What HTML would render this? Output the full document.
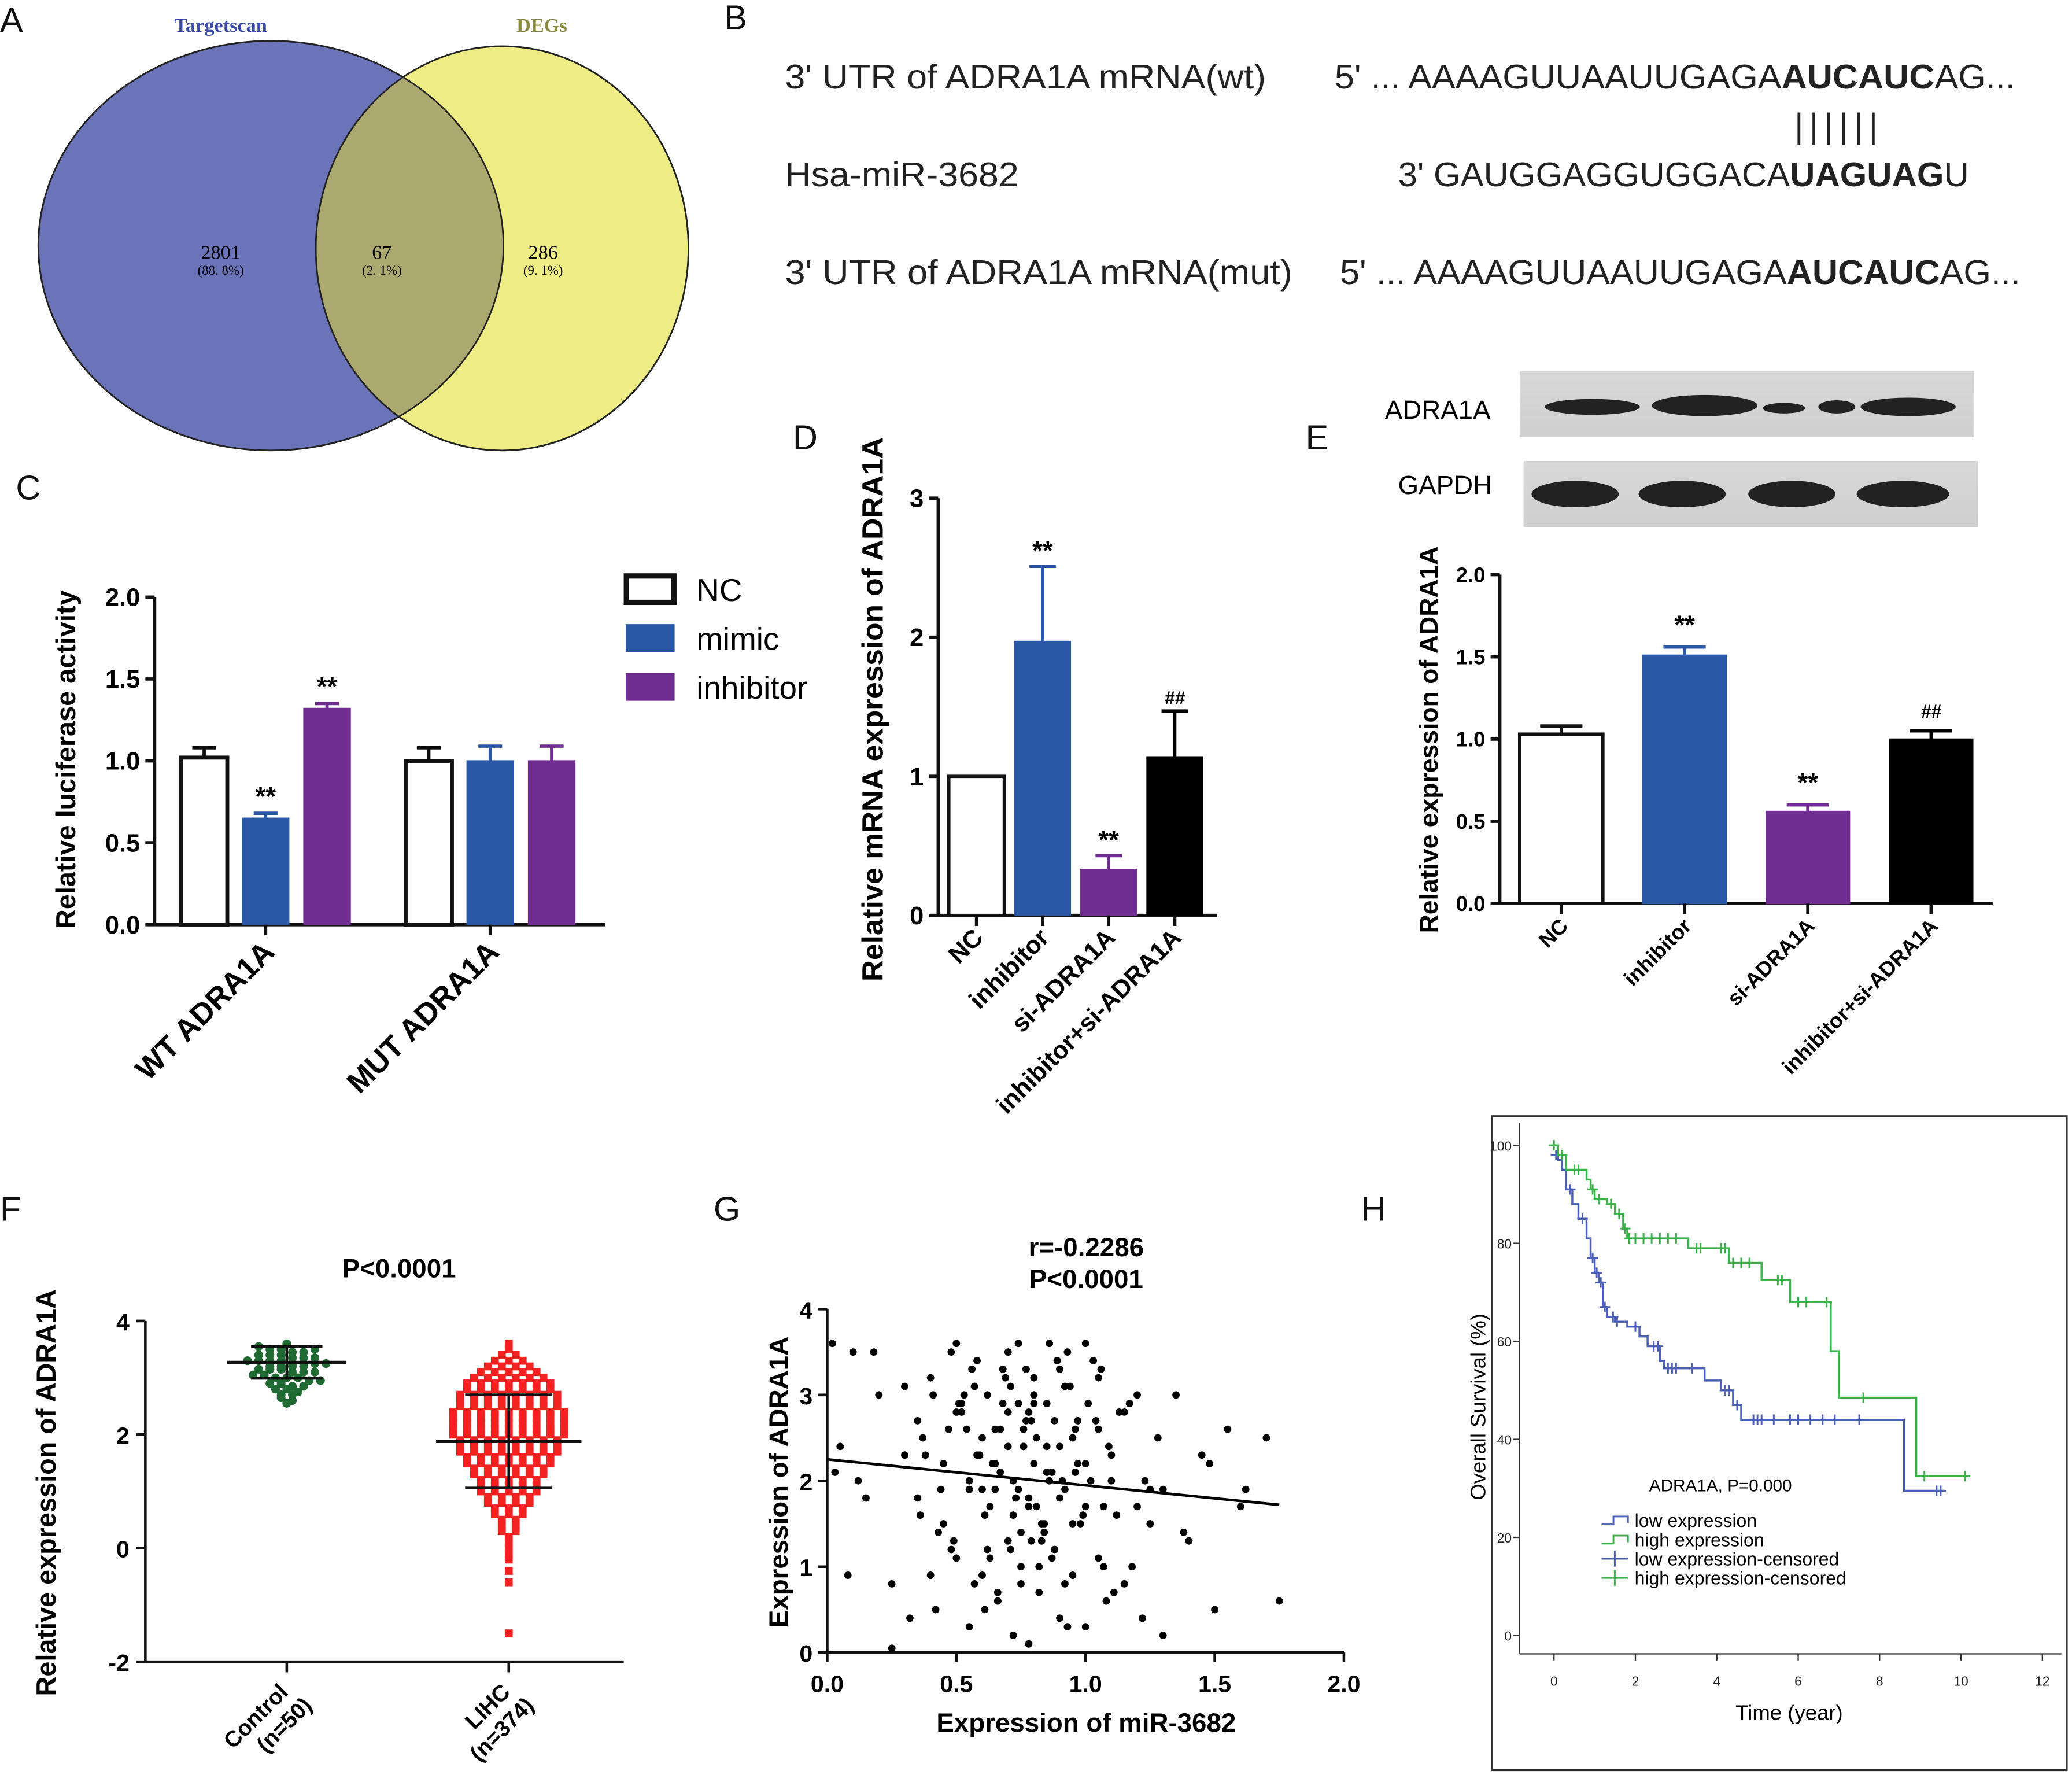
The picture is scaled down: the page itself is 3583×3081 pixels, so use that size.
<!DOCTYPE html>
<html><head><meta charset="utf-8"><style>
html,body{margin:0;padding:0;background:#fff}
svg{display:block}
text{font-family:"Liberation Sans",Arial,sans-serif}
</style></head><body>
<svg id="fig" width="3583" height="3081" viewBox="0 0 1568 1349" preserveAspectRatio="none" xmlns="http://www.w3.org/2000/svg">
<defs>
<clipPath id="clipBlue"><ellipse cx="205" cy="186" rx="176" ry="155"/></clipPath>
<linearGradient id="blot" x1="0" x2="0" y1="0" y2="1"><stop offset="0" stop-color="#d8d8d8"/><stop offset="1" stop-color="#cfcfcf"/></linearGradient>
</defs>
<g font-size="26" fill="#111">
<text x="0" y="24">A</text>
<text x="548" y="22">B</text>
<text x="12" y="378">C</text>
<text x="600" y="340">D</text>
<text x="988" y="340">E</text>
<text x="0" y="924">F</text>
<text x="540" y="924">G</text>
<text x="1030" y="924">H</text>
</g>

<g>
<ellipse cx="205" cy="186" rx="176" ry="155" fill="#6b73b9" stroke="#222" stroke-width="1.2"/>
<ellipse cx="380" cy="188" rx="141" ry="153" fill="#eeec85" stroke="#222" stroke-width="1.2"/>
<ellipse cx="380" cy="188" rx="141" ry="153" fill="#aca970" clip-path="url(#clipBlue)"/>
<ellipse cx="205" cy="186" rx="176" ry="155" fill="none" stroke="#222" stroke-width="1.2"/>
<ellipse cx="380" cy="188" rx="141" ry="153" fill="none" stroke="#222" stroke-width="1.2"/>
<g text-anchor="middle">
<text x="167" y="24" font-size="15" font-weight="bold" fill="#3a4aa8" style="font-family:'Liberation Serif',serif">Targetscan</text>
<text x="410" y="24" font-size="15" font-weight="bold" fill="#8a8a40" style="font-family:'Liberation Serif',serif">DEGs</text>
<text x="167" y="196" font-size="15" style="font-family:'Liberation Serif',serif">2801</text>
<text x="167" y="208" font-size="10" style="font-family:'Liberation Serif',serif">(88. 8%)</text>
<text x="289" y="196" font-size="15" style="font-family:'Liberation Serif',serif">67</text>
<text x="289" y="208" font-size="10" style="font-family:'Liberation Serif',serif">(2. 1%)</text>
<text x="411" y="196" font-size="15" style="font-family:'Liberation Serif',serif">286</text>
<text x="411" y="208" font-size="10" style="font-family:'Liberation Serif',serif">(9. 1%)</text>
</g>
</g>

<g font-size="26" fill="#222">
<text x="594" y="67" textLength="364" lengthAdjust="spacingAndGlyphs">3' UTR of ADRA1A mRNA(wt)</text>
<text x="1010" y="67" textLength="515" lengthAdjust="spacingAndGlyphs">5' ... AAAAGUUAAUUGAGA<tspan font-weight="bold">AUCAUC</tspan>AG...</text>
<text x="1358" y="104" font-size="26" letter-spacing="4.5">||||||</text>
<text x="594" y="141" textLength="177" lengthAdjust="spacingAndGlyphs">Hsa-miR-3682</text>
<text x="1058" y="141" textLength="432" lengthAdjust="spacingAndGlyphs">3' GAUGGAGGUGGACA<tspan font-weight="bold">UAGUAG</tspan>U</text>
<text x="594" y="215" textLength="384" lengthAdjust="spacingAndGlyphs">3' UTR of ADRA1A mRNA(mut)</text>
<text x="1014" y="215" textLength="515" lengthAdjust="spacingAndGlyphs">5' ... AAAAGUUAAUUGAGA<tspan font-weight="bold">AUCAUC</tspan>AG...</text>
</g>

<g id="chartC"></g>
<g id="chartD"></g>
<g id="chartE"></g>
<g id="chartF"></g>
<g id="chartG"></g>
<g id="chartH"></g>

<g>
<text x="1048" y="317" font-size="20">ADRA1A</text>
<text x="1058" y="374" font-size="20">GAPDH</text>
<rect x="1150" y="281" width="344" height="50" fill="url(#blot)"/>
<rect x="1153" y="349" width="344" height="50" fill="url(#blot)"/>
<g fill="#222">
<ellipse cx="1205" cy="308" rx="36" ry="6"/><ellipse cx="1290" cy="307" rx="40" ry="8"/><ellipse cx="1350" cy="309" rx="16" ry="4"/><ellipse cx="1390" cy="308" rx="14" ry="5"/><ellipse cx="1444" cy="308" rx="36" ry="7"/>
<ellipse cx="1192" cy="374" rx="33" ry="10"/><ellipse cx="1273" cy="374" rx="33" ry="10"/><ellipse cx="1356" cy="374" rx="33" ry="10"/><ellipse cx="1440" cy="374" rx="35" ry="10"/>
</g>
</g>
</svg>
<script>
const NS="http://www.w3.org/2000/svg";
function mk(p,tag,a,txt){const e=document.createElementNS(NS,tag);for(const k in a)e.setAttribute(k,a[k]);if(txt!==undefined)e.textContent=txt;p.appendChild(e);return e;}

const cGroups=["WT ADRA1A","MUT ADRA1A"];
const cSeries=["NC","mimic","inhibitor"];
const cValues=[[1.02,0.65,1.32],[1.0,1.0,1.0]];
const cErrors=[[0.06,0.03,0.03],[0.08,0.09,0.09]];
const cTicks=[0,0.5,1.0,1.5,2.0];
const cStars=[["","**","**"],["","",""]];
const dCats=["NC","inhibitor","si-ADRA1A","inhibitor+si-ADRA1A"];
const dValues=[1.0,1.97,0.33,1.14];
const dErrors=[0,0.54,0.1,0.33];
const dTicks=[0,1,2,3];
const dStars=["","**","**","##"];
const eCats=["NC","inhibitor","si-ADRA1A","inhibitor+si-ADRA1A"];
const eValues=[1.03,1.51,0.56,1.0];
const eErrors=[0.05,0.05,0.04,0.05];
const eTicks=[0,0.5,1.0,1.5,2.0];
const eStars=["","**","**","##"];
const fControl=[3.6,3.55,3.5,3.5,3.45,3.45,3.4,3.4,3.4,3.35,3.35,3.35,3.3,3.3,3.3,3.3,3.25,3.25,3.25,3.25,3.2,3.2,3.2,3.2,3.15,3.15,3.15,3.1,3.1,3.1,3.05,3.05,3.0,3.0,3.0,2.95,2.95,2.9,2.9,2.85,2.85,2.8,2.8,2.75,2.7,2.7,2.65,2.6,2.55,3.5];
const fLihc=[3.6,3.5,3.4,3.4,3.3,3.3,3.3,3.2,3.2,3.2,3.2,3.1,3.1,3.1,3.1,3.1,3.0,3.0,3.0,3.0,3.0,3.0,2.9,2.9,2.9,2.9,2.9,2.9,2.9,2.8,2.8,2.8,2.8,2.8,2.8,2.8,2.7,2.7,2.7,2.7,2.7,2.7,2.7,2.7,2.6,2.6,2.6,2.6,2.6,2.6,2.6,2.6,2.5,2.5,2.5,2.5,2.5,2.5,2.5,2.5,2.4,2.4,2.4,2.4,2.4,2.4,2.4,2.4,2.4,2.3,2.3,2.3,2.3,2.3,2.3,2.3,2.3,2.3,2.2,2.2,2.2,2.2,2.2,2.2,2.2,2.2,2.2,2.1,2.1,2.1,2.1,2.1,2.1,2.1,2.1,2.1,2.0,2.0,2.0,2.0,2.0,2.0,2.0,2.0,2.0,1.9,1.9,1.9,1.9,1.9,1.9,1.9,1.9,1.8,1.8,1.8,1.8,1.8,1.8,1.8,1.8,1.7,1.7,1.7,1.7,1.7,1.7,1.7,1.7,1.6,1.6,1.6,1.6,1.6,1.6,1.6,1.5,1.5,1.5,1.5,1.5,1.5,1.5,1.4,1.4,1.4,1.4,1.4,1.4,1.3,1.3,1.3,1.3,1.3,1.3,1.2,1.2,1.2,1.2,1.2,1.1,1.1,1.1,1.1,1.1,1.0,1.0,1.0,1.0,1.0,0.9,0.9,0.9,0.9,0.8,0.8,0.8,0.8,0.7,0.7,0.7,0.6,0.6,0.6,0.5,0.5,0.4,0.4,0.3,0.3,0.2,0.1,0.0,-0.1,-0.2,-0.4,-0.6,-1.5];
const fStats={control:{mean:3.27,sd:0.28},lihc:{mean:1.88,sd:0.82}};
const fTicks=[-2,0,2,4];
const gX=[0.02,0.03,0.05,0.1,0.15,0.18,0.25,0.3,0.32,0.35,0.36,0.4,0.42,0.45,0.48,0.5,0.5,0.52,0.55,0.55,0.58,0.6,0.6,0.62,0.63,0.65,0.66,0.68,0.7,0.7,0.72,0.72,0.74,0.75,0.76,0.78,0.78,0.8,0.8,0.82,0.83,0.85,0.86,0.88,0.9,0.9,0.92,0.94,0.95,0.96,0.98,1.0,1.0,1.02,1.04,1.05,1.06,1.08,1.1,1.12,1.15,1.18,1.2,1.22,1.25,1.28,1.3,1.35,1.4,1.45,1.5,1.55,1.62,1.7,0.45,0.5,0.56,0.6,0.64,0.68,0.72,0.76,0.8,0.84,0.88,0.92,0.96,1.0,1.05,1.1,0.3,0.35,0.4,0.55,0.65,0.7,0.75,0.85,0.9,0.95,1.15,1.25,0.58,0.62,0.66,0.7,0.74,0.78,0.82,0.86,0.9,1.0,1.2,0.2,0.25,0.38,0.44,0.48,0.52,0.57,0.61,0.67,0.71,0.77,0.79,0.81,0.87,0.93,0.97,1.03,1.07,1.13,1.3,1.38,1.48,0.08,0.12,1.6,1.75,0.74,0.76,0.8,0.84,0.78,0.92,1.05,0.66,0.54,0.47,0.53,0.59,0.63,0.69,0.73,0.79,0.83,0.89,0.91,0.99,1.01,1.09,1.11,0.43,0.51,0.57,0.61,0.67,0.71,0.77,0.81,0.87,0.93,0.97,1.07,0.37,0.41,0.49,0.65,0.75,0.85,0.95,1.17,1.23];
const gY=[3.6,2.1,2.4,3.5,1.8,3.5,0.05,3.1,0.4,2.7,1.6,3.2,0.5,2.2,3.5,1.1,3.6,2.8,0.3,1.9,3.4,2.5,0.9,3.0,1.7,2.2,0.6,3.3,2.8,1.3,0.2,2.0,3.6,1.0,2.6,0.1,1.8,3.0,2.2,0.7,1.5,2.9,3.6,1.2,0.4,2.4,1.9,3.1,0.9,2.6,1.5,3.6,0.3,2.0,2.7,1.1,3.3,0.6,2.3,1.6,2.8,1.0,3.0,0.4,1.9,2.5,0.2,3.0,1.3,2.3,0.5,2.6,1.9,2.5,1.5,2.8,3.3,1.9,2.2,2.9,1.6,2.4,3.2,1.4,2.7,0.8,2.1,1.7,3.2,2.0,2.3,1.8,0.9,2.0,2.6,3.5,1.4,2.1,1.8,2.5,0.8,1.5,2.3,1.2,0.6,2.4,2.9,1.7,1.0,2.0,3.3,2.2,1.7,3.0,0.8,2.3,1.9,1.2,2.9,0.8,1.6,2.1,3.1,2.7,1.3,2.5,1.1,0.3,2.2,3.4,1.7,2.8,1.9,1.4,2.2,0.9,2.0,1.7,0.6,1.9,2.4,2.9,1.5,2.8,3.1,2.6,0.7,2.6,2.6,3.0,2.3,1.1,3.2,1.8,2.7,1.3,3.4,2.0,1.6,2.9,2.4,0.7,1.4,2.9,3.1,0.5,2.6,1.2,3.3,1.7,2.1,3.5,2.7,1.0,2.5,3.0,1.3,1.9,0.8,2.4,1.5,2.9,2.0];
const gFit=[2.25,1.72];
const gXTicks=[0,0.5,1.0,1.5,2.0];
const gYTicks=[0,1,2,3,4];
const hLowT=[0,0.1,0.2,0.3,0.45,0.6,0.8,0.9,1.0,1.1,1.2,1.3,1.5,1.8,2.1,2.3,2.6,2.7,3.7,4.1,4.4,4.6,8.6,9.6];
const hLowS=[98,97,95,91,88,85,81,77,74,72,67,65,64,63,61,59,56,54.5,52,50,47,44,29.5,29.5];
const hHighT=[0,0.1,0.3,0.8,0.9,1.0,1.3,1.5,1.7,1.8,3.3,4.3,5.1,5.8,6.8,7.0,8.9,10.1];
const hHighS=[100,98,95,93,91,89,88,86,83,81,79,76,72.5,68,58,48.5,32.5,32.5];
const hLowCens=[0.05,0.4,0.7,0.95,1.05,1.15,1.25,1.45,1.55,2.0,2.45,2.55,2.8,2.9,3.0,3.4,4.2,4.3,4.5,4.9,5.0,5.1,5.4,5.8,6.0,6.3,6.6,6.9,7.5,9.4,9.5];
const hHighCens=[0.0,0.2,0.5,0.6,0.95,1.1,1.4,1.6,1.75,1.85,2.0,2.2,2.4,2.6,2.8,3.0,3.5,3.6,4.1,4.2,4.4,4.6,4.8,5.5,5.6,6.0,6.2,6.7,7.6,9.1,10.1];
const hXTicks=[0,2,4,6,8,10,12];
const hYTicks=[0,20,40,60,80,100];

function barChart(g,o){
  const ys=v=>o.y0-v*o.k;
  mk(g,"line",{x1:o.x0,y1:o.y0,x2:o.x0,y2:ys(o.ticks[o.ticks.length-1]),stroke:"#111","stroke-width":2.5});
  mk(g,"line",{x1:o.x0,y1:o.y0,x2:o.xEnd,y2:o.y0,stroke:"#111","stroke-width":2.5});
  o.ticks.forEach(t=>{const y=ys(t);
    const tk=mk(g,"line",{x1:o.x0-7,y1:y,x2:o.x0,y2:y,stroke:"#111","stroke-width":2.5});
    
    
    mk(g,"text",{x:o.x0-11,y:y+o.fs*0.35,"font-size":o.fs,"font-weight":"bold","text-anchor":"end"},o.fmt(t));});
  const yt=mk(g,"text",{transform:`translate(${o.ytx},${o.yty}) rotate(-90)`,"font-size":o.yfs,"font-weight":"bold","text-anchor":"middle"},o.ytitle);
  
  
}

(function(){
  const g=document.getElementById("chartC");
  const x0=117,y0=700,k=124;
  barChart(g,{x0,y0,k,xEnd:458,ticks:cTicks,fs:19,fmt:t=>t.toFixed(1),ytx:57,yty:575,yfs:20.5,ytitle:"Relative luciferase activity"});
  const fills=["#fff","#2a57a5","#6f2c91"];
  const gStart=[137,307],bw=35,step=46.5;
  cGroups.forEach((gn,gi)=>{
    cValues[gi].forEach((v,si)=>{
      const x=gStart[gi]+si*step,y=y0-v*k,ye=y0-(v+cErrors[gi][si])*k;
      mk(g,"line",{x1:x+bw/2,y1:y,x2:x+bw/2,y2:ye,stroke:si==0?"#111":fills[si],"stroke-width":2.5});
      mk(g,"line",{x1:x+bw/2-9,y1:ye,x2:x+bw/2+9,y2:ye,stroke:si==0?"#111":fills[si],"stroke-width":2.5});
      const b=mk(g,"rect",{x:x,y:y,width:bw,height:v*k,fill:fills[si],stroke:si==0?"#111":fills[si],"stroke-width":si==0?3:1});
      
      
      if(cStars[gi][si]) mk(g,"text",{x:x+bw/2,y:ye-6,"font-size":20,"font-weight":"bold","text-anchor":"middle"},cStars[gi][si]);
    });
    const cx=gStart[gi]+step+bw/2;
    mk(g,"line",{x1:cx,y1:y0,x2:cx,y2:y0+8,stroke:"#111","stroke-width":2.5});
    const lab=mk(g,"text",{transform:`translate(${cx+8},${y0+22}) rotate(-45)`,"font-size":23,"font-weight":"bold","text-anchor":"end"},gn);
    
    
  });
  cSeries.forEach((s,i)=>{
    const y=436+i*37;
    const r=mk(g,"rect",{x:474,y:y,width:36,height:20,fill:fills[i],stroke:i==0?"#111":fills[i],"stroke-width":i==0?4:1});
    
    
    const t=mk(g,"text",{x:527,y:y+19,"font-size":24},s);
    
    
  });
})();

function catBars(g,cats,vals,errs,stars,o){
  const fills=["#fff","#2a57a5","#6f2c91","#000"];
  cats.forEach((c,i)=>{
    const x=o.start+i*o.step,v=vals[i],y=o.y0-v*o.k,ye=o.y0-(v+errs[i])*o.k,col=i==0?"#111":fills[i];
    if(errs[i]>0){mk(g,"line",{x1:x+o.bw/2,y1:y,x2:x+o.bw/2,y2:ye,stroke:col,"stroke-width":2.5});
      mk(g,"line",{x1:x+o.bw/2-o.cap,y1:ye,x2:x+o.bw/2+o.cap,y2:ye,stroke:col,"stroke-width":2.5});}
    const b=mk(g,"rect",{x:x,y:y,width:o.bw,height:v*o.k,fill:fills[i],stroke:col,"stroke-width":i==0?2.5:1});
    
    
    if(stars[i]) mk(g,"text",{x:x+o.bw/2,y:ye-o.sg,"font-size":stars[i]=="##"?14:20,"font-weight":"bold","text-anchor":"middle","font-style":stars[i]=="##"?"italic":"normal"},stars[i]);
    mk(g,"line",{x1:x+o.bw/2,y1:o.y0,x2:x+o.bw/2,y2:o.y0+8,stroke:"#111","stroke-width":2.5});
    const lab=mk(g,"text",{transform:`translate(${x+o.bw/2+6},${o.y0+18}) rotate(-45)`,"font-size":o.lfs,"font-weight":"bold","text-anchor":"end"},c);
    
    
  });
}
(function(){
  const g=document.getElementById("chartD");
  barChart(g,{x0:710,y0:693,k:105.3,xEnd:921,ticks:dTicks,fs:19,fmt:t=>t,ytx:668,yty:537,yfs:22.5,ytitle:"Relative mRNA expression of ADRA1A"});
  catBars(g,dCats,dValues,dErrors,dStars,{start:718,step:50,bw:42,y0:693,k:105.3,cap:10,sg:5,lfs:19});
})();
(function(){
  const g=document.getElementById("chartE");
  barChart(g,{x0:1135,y0:684,k:124.5,xEnd:1508,ticks:eTicks,fs:16,fmt:t=>t.toFixed(1),ytx:1088,yty:560,yfs:19.5,ytitle:"Relative expression of ADRA1A"});
  catBars(g,eCats,eValues,eErrors,eStars,{start:1150,step:93.3,bw:63,y0:684,k:124.5,cap:16,sg:10,lfs:16});
})();

(function(){
  const g=document.getElementById("chartF");
  const x0=110,ys=v=>1172-v*43;
  mk(g,"line",{x1:x0,y1:ys(-2),x2:x0,y2:ys(4),stroke:"#111","stroke-width":2});
  mk(g,"line",{x1:x0,y1:ys(-2),x2:472,y2:ys(-2),stroke:"#111","stroke-width":2});
  fTicks.forEach(t=>{mk(g,"line",{x1:x0-7,y1:ys(t),x2:x0,y2:ys(t),stroke:"#111","stroke-width":2});
    mk(g,"text",{x:x0-12,y:ys(t)+7,"font-size":18,"font-weight":"bold","text-anchor":"end"},t);});
  const yt=mk(g,"text",{transform:"translate(42,1130) rotate(-90)","font-size":20.5,"font-weight":"bold","text-anchor":"middle"},"Relative expression of ADRA1A");
  
  
  const tt=mk(g,"text",{x:302,y:967,"font-size":20,"font-weight":"bold","text-anchor":"middle"},"P<0.0001");
  
  
  function swarm(vals,cx,bin,dx,draw){
    const bins={};vals.forEach(v=>{const b=Math.round(v/bin);(bins[b]=bins[b]||[]).push(v);});
    for(const b in bins){const arr=bins[b];arr.forEach((v,i)=>{const off=(i-(arr.length-1)/2)*dx;draw(cx+off,ys(v));});}
  }
  swarm(fControl,217,0.1,8.5,(x,y)=>{const c=mk(g,"circle",{cx:x,cy:y,r:3.3,fill:"#1f6a33"});
    });
  swarm(fLihc,385,0.1,10.5,(x,y)=>{const c=mk(g,"rect",{x:x-3,y:y-3,width:6,height:6,fill:"#f22222"});
    });
  [[217,fStats.control,45],[385,fStats.lihc,55]].forEach(([cx,s,w])=>{
    mk(g,"line",{x1:cx,y1:ys(s.mean-s.sd),x2:cx,y2:ys(s.mean+s.sd),stroke:"#111","stroke-width":2});
    mk(g,"line",{x1:cx-w,y1:ys(s.mean),x2:cx+w,y2:ys(s.mean),stroke:"#111","stroke-width":2.5});
    mk(g,"line",{x1:cx-w*0.6,y1:ys(s.mean+s.sd),x2:cx+w*0.6,y2:ys(s.mean+s.sd),stroke:"#111","stroke-width":2});
    mk(g,"line",{x1:cx-w*0.6,y1:ys(s.mean-s.sd),x2:cx+w*0.6,y2:ys(s.mean-s.sd),stroke:"#111","stroke-width":2});
    mk(g,"line",{x1:cx,y1:ys(-2),x2:cx,y2:ys(-2)+8,stroke:"#111","stroke-width":2});
  });
  [["Control","(n=50)",217],["LIHC","(n=374)",385]].forEach(([a,b,cx])=>{
    const t=mk(g,"text",{transform:`translate(${cx+2},${1282}) rotate(-45)`,"font-size":17,"font-weight":"bold","text-anchor":"end"},a);
    
    mk(g,"text",{transform:`translate(${cx+20},${1292}) rotate(-45)`,"font-size":17,"font-weight":"bold","text-anchor":"end"},b);
  });
})();

(function(){
  const g=document.getElementById("chartG");
  const xs=v=>626+v*195.5,ys=v=>1251-v*65;
  mk(g,"line",{x1:xs(0),y1:ys(0),x2:xs(0),y2:ys(4),stroke:"#111","stroke-width":2});
  mk(g,"line",{x1:xs(0),y1:ys(0),x2:xs(2),y2:ys(0),stroke:"#111","stroke-width":2});
  gXTicks.forEach(t=>{mk(g,"line",{x1:xs(t),y1:ys(0),x2:xs(t),y2:ys(0)+7,stroke:"#111","stroke-width":2});
    mk(g,"text",{x:xs(t),y:ys(0)+30,"font-size":18,"font-weight":"bold","text-anchor":"middle"},t.toFixed(1));});
  gYTicks.forEach(t=>{mk(g,"line",{x1:xs(0)-7,y1:ys(t),x2:xs(0),y2:ys(t),stroke:"#111","stroke-width":2});
    mk(g,"text",{x:xs(0)-11,y:ys(t)+7,"font-size":18,"font-weight":"bold","text-anchor":"end"},t);});
  gX.forEach((x,i)=>{const c=mk(g,"circle",{cx:xs(x),cy:ys(gY[i]),r:2.8,fill:"#000"});
    });
  const fl=mk(g,"line",{x1:xs(0),y1:ys(gFit[0]),x2:xs(1.75),y2:ys(gFit[1]),stroke:"#000","stroke-width":2});
  
  mk(g,"text",{x:822,y:951,"font-size":20,"font-weight":"bold","text-anchor":"middle"},"r=-0.2286");
  mk(g,"text",{x:822,y:975,"font-size":20,"font-weight":"bold","text-anchor":"middle"},"P<0.0001");
  mk(g,"text",{x:822,y:1311,"font-size":20,"font-weight":"bold","text-anchor":"middle"},"Expression of miR-3682");
  mk(g,"text",{transform:"translate(596,1122) rotate(-90)","font-size":20,"font-weight":"bold","text-anchor":"middle"},"Expression of ADRA1A");
})();

(function(){
  const g=document.getElementById("chartH");
  const xs=v=>1176+v*30.8,ys=v=>1238-v*3.71;
  mk(g,"rect",{x:1129,y:845,width:435,height:495,fill:"none",stroke:"#333","stroke-width":1.5});
  hXTicks.forEach(t=>{mk(g,"line",{x1:xs(t),y1:1252,x2:xs(t),y2:1257,stroke:"#333"});
    mk(g,"text",{x:xs(t),y:1276,"font-size":10,"text-anchor":"middle",fill:"#222"},t);});
  mk(g,"line",{x1:1150,y1:1252,x2:1560,y2:1252,stroke:"#333"});
  mk(g,"line",{x1:1150,y1:850,x2:1150,y2:1252,stroke:"#333"});
  hYTicks.forEach(t=>{mk(g,"line",{x1:1145,y1:ys(t),x2:1150,y2:ys(t),stroke:"#333"});
    mk(g,"text",{x:1144,y:ys(t)+4,"font-size":10,"text-anchor":"end",fill:"#222"},t);});
  mk(g,"text",{x:1354,y:1302,"font-size":16,"text-anchor":"middle"},"Time (year)");
  mk(g,"text",{transform:"translate(1124,1065) rotate(-90)","font-size":16,"text-anchor":"middle"},"Overall Survival (%)");
  function step(T,S){let d="M"+xs(T[0])+","+ys(S[0]);for(let i=1;i<T.length;i++){d+=" H"+xs(T[i])+" V"+ys(S[i]);}return d;}
  function sAt(T,S,t){let s=S[0];for(let i=0;i<T.length;i++){if(T[i]<=t)s=S[i];}return s;}
  const lc="#4a5fb5",hc="#3cb04a";
  const lp=mk(g,"path",{d:step(hLowT,hLowS),fill:"none",stroke:lc,"stroke-width":1.5});
  
  const hp=mk(g,"path",{d:step(hHighT,hHighS),fill:"none",stroke:hc,"stroke-width":1.5});
  
  hLowCens.forEach(t=>{const x=xs(t),y=ys(sAt(hLowT,hLowS,t));mk(g,"path",{d:`M${x-4},${y}H${x+4}M${x},${y-4}V${y+4}`,stroke:lc,"stroke-width":1.3});});
  hHighCens.forEach(t=>{const x=xs(t),y=ys(sAt(hHighT,hHighS,t));mk(g,"path",{d:`M${x-4},${y}H${x+4}M${x},${y-4}V${y+4}`,stroke:hc,"stroke-width":1.3});});
  mk(g,"text",{x:1248,y:1129,"font-size":13},"ADRA1A, P=0.000");
  const L=[["low expression",lc,0],["high expression",hc,0],["low expression-censored",lc,1],["high expression-censored",hc,1]];
  L.forEach(([s,c,cen],i)=>{const y=1151+i*14.5;
    if(cen) mk(g,"path",{d:`M1212,${y}H1232M1222,${y-6}V${y+6}`,stroke:c,"stroke-width":1.3});
    else mk(g,"path",{d:`M1212,${y+3}H1221V${y-3}H1232V${y+2}`,fill:"none",stroke:c,"stroke-width":1.3});
    const t=mk(g,"text",{x:1237,y:y+5,"font-size":14},s);
    });
})();
</script>
</body></html>
